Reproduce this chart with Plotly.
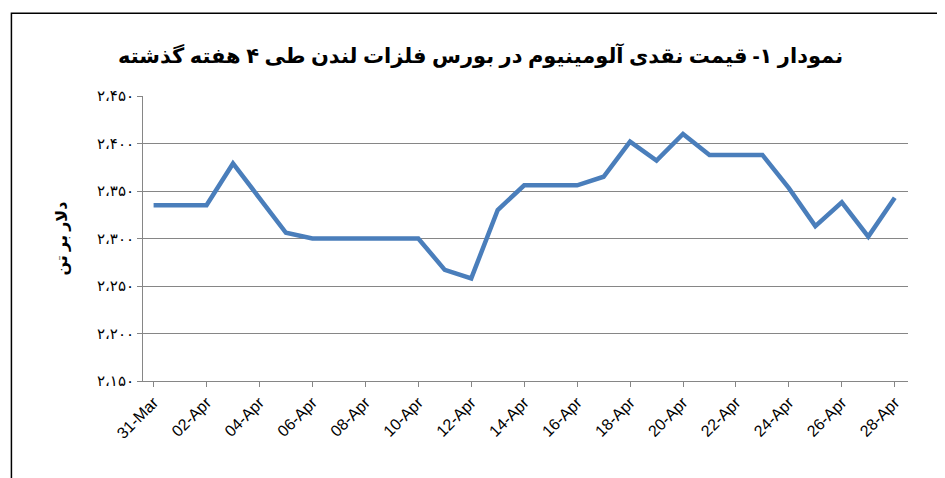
import plotly.graph_objects as go

dates = ["31-Mar","01-Apr","02-Apr","03-Apr","04-Apr","05-Apr","06-Apr","07-Apr","08-Apr","09-Apr",
         "10-Apr","11-Apr","12-Apr","13-Apr","14-Apr","15-Apr","16-Apr","17-Apr","18-Apr","19-Apr",
         "20-Apr","21-Apr","22-Apr","23-Apr","24-Apr","25-Apr","26-Apr","27-Apr","28-Apr"]
prices = [2335,2335,2335,2379,2343,2306,2300,2300,2300,2300,
          2300,2267,2258,2330,2356,2356,2356,2365,2402,2382,
          2410,2388,2388,2388,2353,2313,2338,2302,2343]
ytick_vals = [2150,2200,2250,2300,2350,2400,2450]
ytick_text = ["۲،۱۵۰","۲،۲۰۰","۲،۲۵۰","۲،۳۰۰","۲،۳۵۰","۲،۴۰۰","۲،۴۵۰"]
title = "نمودار ۱- قیمت نقدی آلومینیوم در بورس فلزات لندن طی ۴ هفته گذشته"
ytitle = "دلار بر تن"

fig = go.Figure(go.Scatter(x=dates, y=prices, mode="lines",
                           line=dict(color="#4a7ebb", width=4.5)))
fig.update_layout(
    width=945, height=478, paper_bgcolor="white", plot_bgcolor="white",
    margin=dict(l=135, r=45, t=88, b=105), showlegend=False,
    font=dict(family="Noto Sans, DejaVu Sans", color="black"),
    title=dict(text="<b>"+title+"</b>", x=0.5, xanchor="center", y=0.915, font=dict(size=21)),
    shapes=[dict(type="rect", xref="paper", yref="paper", x0=-0.172, x1=1.053, y0=-0.355, y1=1.29,
                 line=dict(color="black", width=1.5))],
)
fig.update_xaxes(type="category", tickvals=dates[::2], tickangle=-45, ticks="outside",
                 ticklen=5, tickcolor="#868686", showline=True, linecolor="#868686",
                 showgrid=False, range=[-0.4, 28.5], tickfont=dict(size=16, family="Liberation Sans"))
fig.update_yaxes(range=[2150, 2450], tickvals=ytick_vals, ticktext=ytick_text,
                 showline=True, linecolor="#868686", gridcolor="#868686", ticks="outside",
                 ticklen=5, tickcolor="#868686", tickfont=dict(size=15),
                 title=dict(text="<b>"+ytitle+"</b>", font=dict(size=16), standoff=25))
fig.write_html("out.html")
